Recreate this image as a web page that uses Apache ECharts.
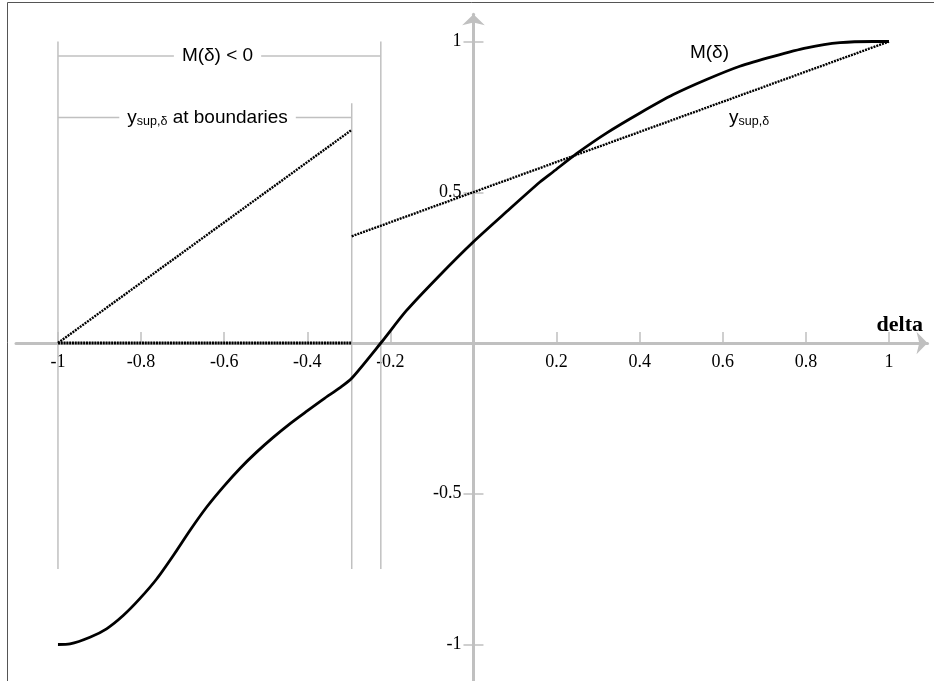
<!DOCTYPE html>
<html>
<head>
<meta charset="utf-8">
<script src="https://cdn.jsdelivr.net/npm/echarts@6/dist/echarts.min.js"></script>
<style>html,body{margin:0;padding:0;background:#fff}#c{width:934px;height:681px}</style>
</head>
<body>
<div id="c"></div>
<script>
// ---- data ----
const mDelta = [-1, -0.971, -0.923, -0.883, -0.843, -0.803, -0.762, -0.722, -0.682, -0.642, -0.602, -0.562, -0.522, -0.482, -0.442, -0.401, -0.361, -0.321, -0.293, -0.223, -0.161, -0.081, 0, 0.08, 0.16, 0.192, 0.248, 0.321, 0.401, 0.481, 0.561, 0.641, 0.722, 0.802, 0.882, 0.962, 1];
const mValue = [-1, -0.998, -0.976, -0.948, -0.904, -0.848, -0.782, -0.704, -0.621, -0.544, -0.477, -0.416, -0.362, -0.313, -0.268, -0.226, -0.186, -0.148, -0.117, 0, 0.108, 0.225, 0.336, 0.436, 0.534, 0.568, 0.628, 0.697, 0.763, 0.824, 0.874, 0.918, 0.951, 0.979, 0.996, 1.0, 1.0];

const ysupLeftDelta = [-1, -0.293];
const ysupLeftValue = [0, 0.707];
const ysupZeroDelta = [-1, -0.293];
const ysupZeroValue = [0, 0];
const ysupRightDelta = [-0.293, 1];
const ysupRightValue = [0.354, 1];

const xTicks = [-1, -0.8, -0.6, -0.4, -0.2, 0.2, 0.4, 0.6, 0.8, 1];
const yTicks = [-1, -0.5, 0.5, 1];

// annotation guides
const guideX = [-1, -0.293, -0.223];
const guideTop = [1.0, 0.795, 1.0];
const guideBottom = -0.75;
const bracketY = [0.952, 0.748];
const bracketEnd = [-0.223, -0.293];

const SERIF = '"Liberation Serif", "Times New Roman", serif';
const SANS = '"Liberation Sans", Arial, sans-serif';
const GRAY = '#c0c0c0';

// axis ranges / grid geometry
const X_MIN = -1.101, X_MAX = 1.0927, Y_MIN = -1.12, Y_MAX = 1.09;
const G_LEFT = 16, G_TOP = 14.37, G_W = 911.5, G_H = 666.3;
const zeroX = G_LEFT + (0 - X_MIN) / (X_MAX - X_MIN) * G_W;
const zeroY = G_TOP + (Y_MAX - 0) / (Y_MAX - Y_MIN) * G_H;

const pairs = (xs, ys) => xs.map((x, i) => [x, ys[i]]);

const guideSeries = [];
guideX.forEach((x, i) => {
  guideSeries.push({type: 'line', silent: true, symbol: 'none', z: 1,
    data: [[x, guideTop[i]], [x, guideBottom]],
    lineStyle: {color: GRAY, width: 1.5}});
});
bracketY.forEach((y, i) => {
  guideSeries.push({type: 'line', silent: true, symbol: 'none', z: 1,
    data: [[-1, y], [bracketEnd[i], y]],
    lineStyle: {color: GRAY, width: 1.5}});
});

const dotted = {color: '#000', width: 2.4, type: [2, 1]};

const chart = echarts.init(document.getElementById('c'));
chart.setOption({
  animation: false,
  backgroundColor: '#fff',
  grid: {left: G_LEFT, top: G_TOP, width: G_W, height: G_H, containLabel: false, outerBoundsMode: 'none'},
  xAxis: {
    type: 'value', min: X_MIN, max: X_MAX, position: 'bottom',
    offset: -((G_TOP + G_H) - zeroY),
    axisLine: {onZero: false, symbol: ['none', 'arrow'], symbolSize: [17, 11],
      lineStyle: {color: GRAY, width: 3}},
    axisTick: {show: true, inside: true, length: 11, customValues: xTicks,
      lineStyle: {color: GRAY, width: 1.5}},
    axisLabel: {customValues: xTicks, margin: 10, fontFamily: SERIF, fontSize: 18, color: '#000',
      formatter: v => String(v)},
    splitLine: {show: false}
  },
  yAxis: [{
    type: 'value', min: Y_MIN, max: Y_MAX, position: 'left',
    offset: -(zeroX - G_LEFT),
    axisLine: {onZero: false, symbol: ['none', 'arrow'], symbolSize: [17, 11],
      lineStyle: {color: GRAY, width: 3}},
    axisTick: {show: true, length: 10, customValues: yTicks,
      lineStyle: {color: GRAY, width: 1.5}},
    axisLabel: {customValues: yTicks, margin: 12, fontFamily: SERIF, fontSize: 18, color: '#000',
      formatter: v => String(v)},
    splitLine: {show: false}
  }, {
    type: 'value', min: Y_MIN, max: Y_MAX, position: 'right',
    offset: -((G_LEFT + G_W) - zeroX),
    axisLine: {show: false, onZero: false},
    axisTick: {show: true, length: 10, customValues: yTicks,
      lineStyle: {color: GRAY, width: 1.5}},
    axisLabel: {show: false},
    splitLine: {show: false}
  }],
  series: guideSeries.concat([
    {name: 'ysup boundary zero', type: 'line', symbol: 'none', z: 3,
      data: pairs(ysupZeroDelta, ysupZeroValue), lineStyle: {color: '#000', width: 2.8, type: [2, 0.8]}},
    {name: 'ysup boundary', type: 'line', symbol: 'none', z: 3,
      data: pairs(ysupLeftDelta, ysupLeftValue), lineStyle: dotted},
    {name: 'ysup', type: 'line', symbol: 'none', z: 3,
      data: pairs(ysupRightDelta, ysupRightValue), lineStyle: dotted},
    {name: 'M', type: 'line', symbol: 'none', z: 4, smooth: 0.25,
      data: pairs(mDelta, mValue), lineStyle: {color: '#000', width: 2.8}}
  ])
});

const px = (x, y) => chart.convertToPixel({gridIndex: 0}, [x, y]);
const subRich = {
  y: {fontFamily: SANS, fontSize: 19, lineHeight: 22, verticalAlign: 'middle', fill: '#000'},
  s: {fontFamily: SANS, fontSize: 12.5, lineHeight: 13, verticalAlign: 'bottom', fill: '#000'},
  t: {fontFamily: SANS, fontSize: 19, lineHeight: 22, verticalAlign: 'middle', fill: '#000'}
};
const p1 = px(-0.616, 0.952);
const p2 = px(-0.640, 0.748);
const p3 = px(0.568, 0.962);
const p4 = px(0.615, 0.748);
const p5 = px(1.026, 0.058);
chart.setOption({
  graphic: [
    {type: 'rect', z: 100, silent: true, shape: {x: 7.5, y: 2.5, width: 1000, height: 1000},
      style: {fill: null, stroke: '#555', lineWidth: 1}},
    {type: 'text', z: 50, x: p1[0], y: p1[1], style: {text: 'M(δ) < 0', font: '19px ' + SANS,
      align: 'center', verticalAlign: 'middle', fill: '#000', backgroundColor: '#fff', padding: [2, 8]}},
    {type: 'text', z: 50, x: p2[0], y: p2[1], style: {text: '{y|y}{s|sup,δ}{t| at boundaries}', rich: subRich,
      align: 'center', verticalAlign: 'middle', backgroundColor: '#fff', padding: [0, 8]}},
    {type: 'text', z: 50, x: p3[0], y: p3[1], style: {text: 'M(δ)', font: '19px ' + SANS,
      align: 'center', verticalAlign: 'middle', fill: '#000'}},
    {type: 'text', z: 50, x: p4[0], y: p4[1], style: {text: '{y|y}{s|sup,δ}', rich: subRich,
      align: 'left', verticalAlign: 'middle'}},
    {type: 'text', z: 50, x: p5[0], y: p5[1], style: {text: 'delta', font: 'bold 22px ' + SERIF,
      align: 'center', verticalAlign: 'middle', fill: '#000'}}
  ]
});
</script>
</body>
</html>
